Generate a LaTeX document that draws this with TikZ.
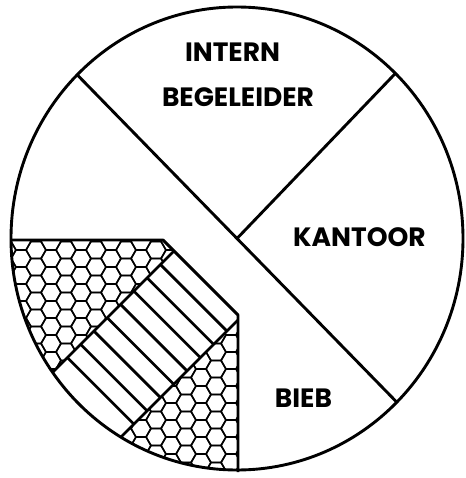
\documentclass[tikz,border=0pt]{standalone}
\usepackage{fontspec}
\setmainfont{Poppins}
\begin{document}
\begin{tikzpicture}[x=1pt,y=-1pt,
  outline/.style={line width=2.9pt, line join=round},
  stripeline/.style={line width=2.7pt},
  hexline/.style={line width=1.5pt, line join=miter},
  label/.style={font=\fontsize{26.5}{26.5}\selectfont\bfseries, inner sep=0pt, anchor=base}]
\useasboundingbox (0,0) rectangle (465,478);
\fill[white] (0,0) rectangle (465,478);
\coordinate (C) at (237,238.5);
\coordinate (D1) at (77.2,74.8);
\coordinate (D2) at (396.8,402.2);
\coordinate (E) at (395.4,73.4);
\coordinate (P1) at (11,240);
\coordinate (P2) at (163,240);
\coordinate (P3) at (238,315);
\coordinate (P4) at (238,472);
% shaded region
\begin{scope}
  \clip (C) ellipse [x radius=226, y radius=231.5];
  \clip (0,240) -- (P2) -- (P3) -- (238,478) -- (0,478) -- cycle;
  \foreach \i in {0,...,17} {
    \foreach \j in {0,...,15} {
      \pgfmathsetmacro\hx{6+\i*15}
      \pgfmathsetmacro\hy{233+\j*17+mod(\i,2)*8.5}
      \draw[hexline] (\hx,\hy) +(0:9.9) -- +(60:9.9) -- +(120:9.9) -- +(180:9.9) -- +(240:9.9) -- +(300:9.9) -- cycle;
    }
  }
  \fill[white] (-100,525) -- (525,-100) -- (600,-42) -- (-42,600) -- cycle;
  \draw[stripeline] (-100,525) -- (525,-100);
  \draw[stripeline] (-42,600) -- (600,-42);
  \foreach \k in {1,...,8} {
    \pgfmathsetmacro\cc{-77.5-26.6*\k}
    \draw[stripeline] ({(425+\cc)/2},{(425-\cc)/2}) -- ({(558+\cc)/2},{(558-\cc)/2});
  }
\end{scope}
\draw[outline] (P1) -- (P2) -- (P3) -- (P4);
% main lines
\draw[outline] (D1) -- (D2);
\draw[outline] (E) -- (C);
\draw[outline] (C) ellipse [x radius=226, y radius=231.5];
% labels
\node[label] (intern) at (232.5,62) {INTERN};
\node[label] (begeleider) at (238,107) {BEGELEIDER};
\node[label] (kantoor) at (359.5,246) {KANTOOR};
\node[label] (bieb) at (303.5,407) {BIEB};
\end{tikzpicture}
\end{document}
